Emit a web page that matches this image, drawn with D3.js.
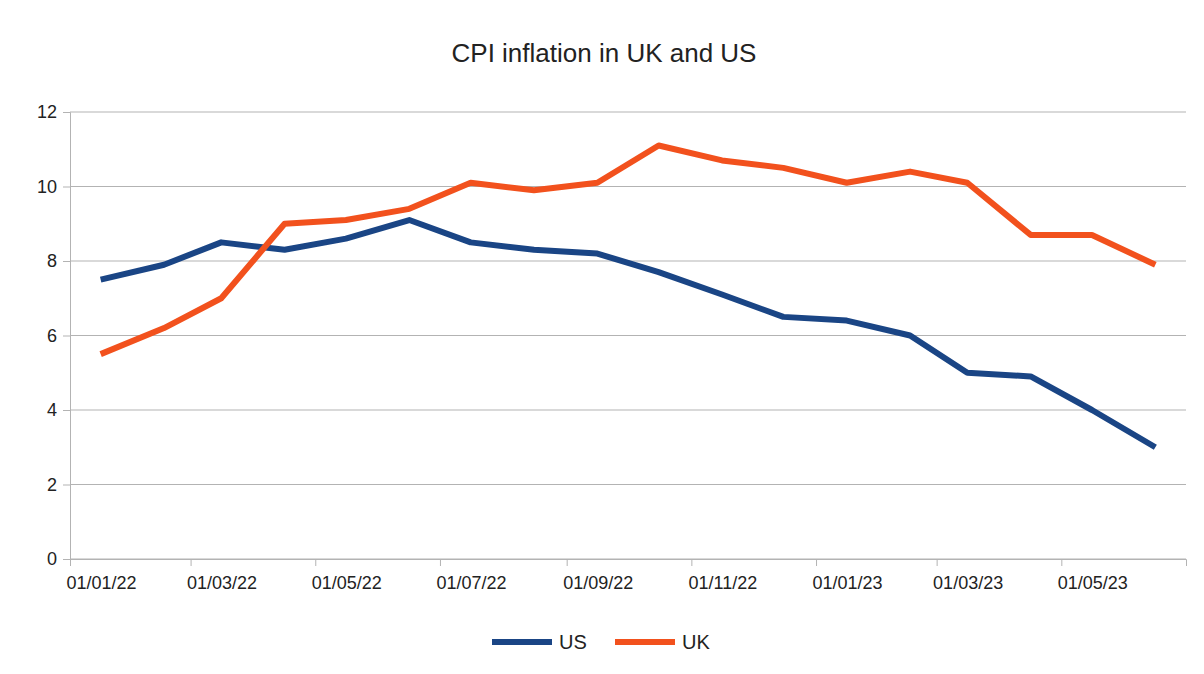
<!DOCTYPE html>
<html><head><meta charset="utf-8">
<script src="https://cdn.jsdelivr.net/npm/d3@7"></script>
<style>body{margin:0;background:#fff;font-family:"Liberation Sans",Arial,sans-serif}</style>
</head><body>
<script>
// CPI inflation, monthly, Jan 2022 - Jun 2023
var months = ["2022-01","2022-02","2022-03","2022-04","2022-05","2022-06","2022-07","2022-08","2022-09",
              "2022-10","2022-11","2022-12","2023-01","2023-02","2023-03","2023-04","2023-05","2023-06"];
var usValues = [7.5,7.9,8.5,8.3,8.6,9.1,8.5,8.3,8.2,7.7,7.1,6.5,6.4,6.0,5.0,4.9,4.0,3.0];
var ukValues = [5.5,6.2,7.0,9.0,9.1,9.4,10.1,9.9,10.1,11.1,10.7,10.5,10.1,10.4,10.1,8.7,8.7,7.9];
var yTicks = [0,2,4,6,8,10,12];

var W = 1204, H = 674;
var svg = d3.select("body").append("svg").attr("width", W).attr("height", H);

var x = d3.scaleTime()
    .domain([new Date(2022,0,1), new Date(2023,6,1)])
    .range([70, 1186]);
var y = d3.scaleLinear().domain([0,12]).range([559,112]);

var parse = d3.timeParse("%Y-%m");
var dates = months.map(function(m){ var d = parse(m); d.setDate(16); return d; });

// gridlines
svg.selectAll(".grid").data(yTicks).enter().append("line")
    .attr("x1", 70).attr("x2", 1186)
    .attr("y1", function(d){return y(d);}).attr("y2", function(d){return y(d);})
    .style("stroke", "#b3b3b3").style("stroke-width", 1);

// y axis
var yAxis = svg.append("g").attr("transform","translate(70,0)")
    .call(d3.axisLeft(y).tickValues(yTicks).tickSize(7).tickPadding(6));
// x axis: ticks every 2 months, Jan 22 .. May 23
var xTickDates = d3.range(0, 9).map(function(i){ return new Date(2022, i*2, 1); });
var xAxis = svg.append("g").attr("transform","translate(0,559)")
    .call(d3.axisBottom(x).tickValues(xTickDates).tickFormat(d3.timeFormat("%d/%m/%y")).tickSize(7).tickPadding(10));
[yAxis, xAxis].forEach(function(g){
  g.selectAll("path,line").style("stroke","#b3b3b3");
  g.selectAll("text").style("font-size","18px").style("fill","#222").style("font-family","Liberation Sans, Arial, sans-serif");
});
xAxis.selectAll("text").attr("dx", 31);

var line = d3.line().x(function(d,i){return x(dates[i]);}).y(function(d){return y(d);});
svg.append("path").datum(usValues).attr("d", line)
    .style("fill","none").style("stroke","#1a4585").style("stroke-width",6).style("stroke-linejoin","round");
svg.append("path").datum(ukValues).attr("d", line)
    .style("fill","none").style("stroke","#f2511d").style("stroke-width",6).style("stroke-linejoin","round");

// title
svg.append("text").text("CPI inflation in UK and US")
    .attr("x", 604).attr("y", 62).attr("text-anchor","middle")
    .style("font-size","26px").style("fill","#222");

// legend
var legend = [{name:"US", color:"#1a4585", x:492}, {name:"UK", color:"#f2511d", x:615}];
legend.forEach(function(l){
  svg.append("line").attr("x1", l.x).attr("x2", l.x+60).attr("y1",642).attr("y2",642)
    .style("stroke", l.color).style("stroke-width",6);
  svg.append("text").text(l.name).attr("x", l.x+67).attr("y", 649)
    .style("font-size","20px").style("fill","#222");
});
</script>
</body></html>
